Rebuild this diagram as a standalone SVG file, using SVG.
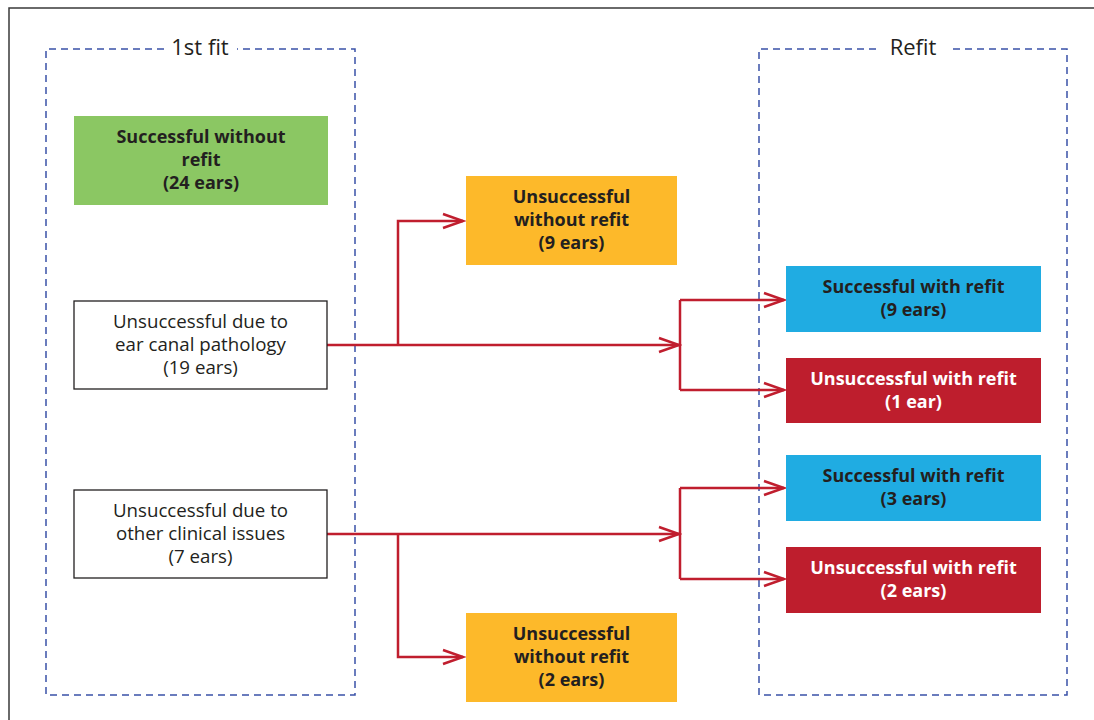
<svg xmlns="http://www.w3.org/2000/svg" width="1094" height="720" viewBox="0 0 1094 720">
<style>
text{font-family:"Open Sans","Noto Sans","Liberation Sans",sans-serif;text-anchor:middle;fill:#231F20}
.b{font-weight:bold;font-size:18px}
.r{font-size:18.7px}
.w{fill:#FFFFFF}
.t{font-size:22px}
.grp{fill:none;stroke:#3A52A8;stroke-width:1.5;stroke-dasharray:7,5}
.plain{fill:#FFFFFF;stroke:#231F20;stroke-width:1.3}
.c{fill:none;stroke:#C01E2E;stroke-width:2.5;marker-end:url(#ah)}
.cl{fill:none;stroke:#C01E2E;stroke-width:2.5}
</style>
<defs>
<marker id="ah" markerUnits="userSpaceOnUse" markerWidth="24" markerHeight="20" refX="21" refY="8" orient="auto" viewBox="0 0 24 16">
<path d="M1,1 L21,8 L1,15" fill="none" stroke="#C01E2E" stroke-width="2.5"/>
</marker>
</defs>
<rect width="1094" height="720" fill="#FFFFFF"/>
<path d="M9,720 V8 H1094" fill="none" stroke="#3A3A3A" stroke-width="1.5"/>
<g id="group-1st-fit">
<path class="grp" d="M164,49 H46 V695 H355 V49 H237"/>
<text class="t" x="200" y="55">1st fit</text>
</g>
<g id="group-refit">
<path class="grp" d="M876,49 H759 V695 H1067 V49 H950"/>
<text class="t" x="913" y="55">Refit</text>
</g>
<g id="connectors">
<path class="c" d="M327,345 H679"/>
<path class="c" d="M398,345 V221 H463"/>
<path class="cl" d="M680,390 V300"/>
<path class="c" d="M680,300 H784"/>
<path class="c" d="M680,390 H784"/>
<path class="c" d="M327,534 H679"/>
<path class="c" d="M398,534 V657 H463"/>
<path class="cl" d="M680,488 V579"/>
<path class="c" d="M680,488 H784"/>
<path class="c" d="M680,579 H784"/>
</g>
<g id="n-success-no-refit">
<rect x="74" y="116" width="254" height="89" fill="#8BC763"/>
<text class="b" x="201" y="143">Successful without</text>
<text class="b" x="201" y="166">refit</text>
<text class="b" x="201" y="189">(24 ears)</text>
</g>
<g id="n-ear-canal">
<rect class="plain" x="74" y="301" width="253" height="88"/>
<text class="r" x="200.5" y="328">Unsuccessful due to</text>
<text class="r" x="200.5" y="351">ear canal pathology</text>
<text class="r" x="200.5" y="374">(19 ears)</text>
</g>
<g id="n-other-clinical">
<rect class="plain" x="74" y="490" width="253" height="88"/>
<text class="r" x="200.5" y="517">Unsuccessful due to</text>
<text class="r" x="200.5" y="540">other clinical issues</text>
<text class="r" x="200.5" y="563">(7 ears)</text>
</g>
<g id="n-unsucc-no-refit-9">
<rect x="466" y="176" width="211" height="89" fill="#FDB92A"/>
<text class="b" x="571.5" y="203">Unsuccessful</text>
<text class="b" x="571.5" y="226">without refit</text>
<text class="b" x="571.5" y="249">(9 ears)</text>
</g>
<g id="n-unsucc-no-refit-2">
<rect x="466" y="613" width="211" height="89" fill="#FDB92A"/>
<text class="b" x="571.5" y="640">Unsuccessful</text>
<text class="b" x="571.5" y="663">without refit</text>
<text class="b" x="571.5" y="686">(2 ears)</text>
</g>
<g id="n-succ-refit-9">
<rect x="786" y="266" width="255" height="66" fill="#20ACE2"/>
<text class="b" x="913.5" y="293">Successful with refit</text>
<text class="b" x="913.5" y="316">(9 ears)</text>
</g>
<g id="n-unsucc-refit-1">
<rect x="786" y="358" width="255" height="65" fill="#BE1E2D"/>
<text class="b w" x="913.5" y="385">Unsuccessful with refit</text>
<text class="b w" x="913.5" y="408">(1 ear)</text>
</g>
<g id="n-succ-refit-3">
<rect x="786" y="455" width="255" height="66" fill="#20ACE2"/>
<text class="b" x="913.5" y="482">Successful with refit</text>
<text class="b" x="913.5" y="505">(3 ears)</text>
</g>
<g id="n-unsucc-refit-2">
<rect x="786" y="547" width="255" height="66" fill="#BE1E2D"/>
<text class="b w" x="913.5" y="574">Unsuccessful with refit</text>
<text class="b w" x="913.5" y="597">(2 ears)</text>
</g>
</svg>
